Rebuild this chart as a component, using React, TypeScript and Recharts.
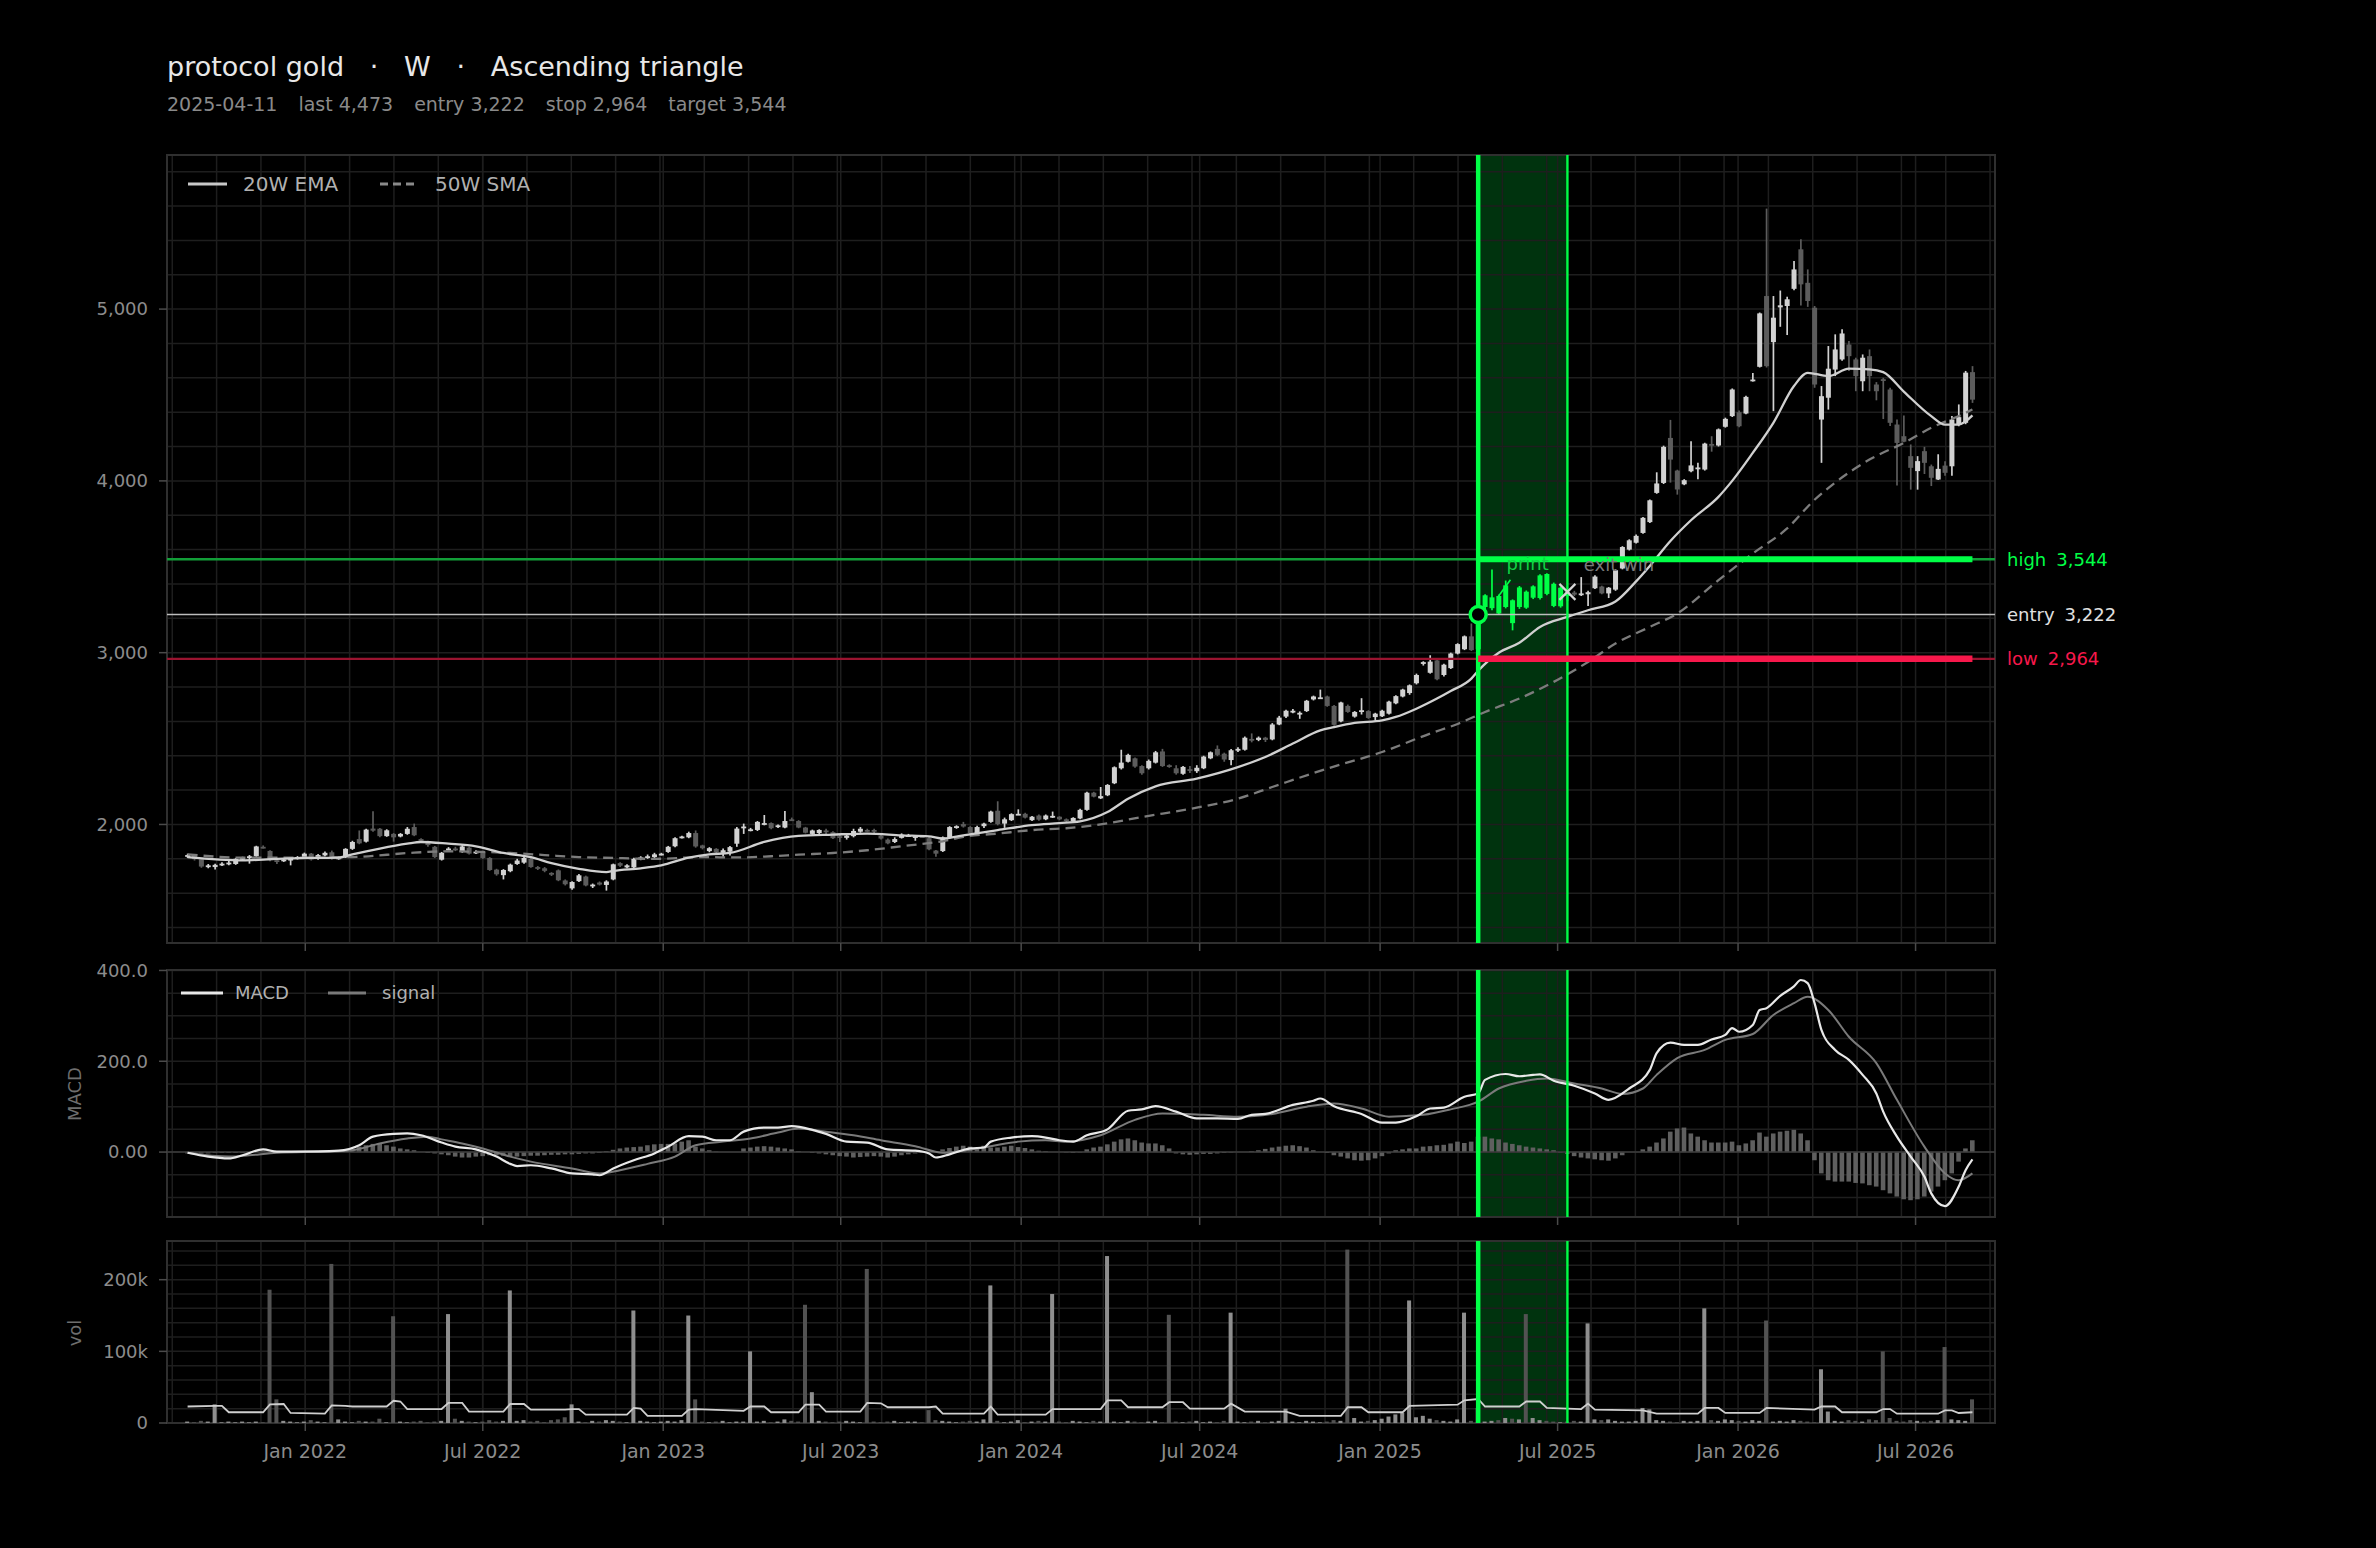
import React from 'react';
import {
  ComposedChart,
  Bar,
  Line,
  XAxis,
  YAxis,
  ReferenceLine,
  ReferenceArea,
  ReferenceDot,
} from 'recharts';

// weekly bars (Friday), first bar 2021-09-03
const opens = [
  1812, 1818, 1798, 1755, 1752, 1765, 1772, 1770, 1800, 1806,
  1815, 1870, 1846, 1792, 1788, 1790, 1802, 1810, 1830, 1800,
  1820, 1838, 1802, 1808, 1858, 1915, 1900, 1976, 1975, 1932,
  1945, 1930, 1945, 1985, 1915, 1898, 1870, 1795, 1852, 1860,
  1840, 1865, 1835, 1840, 1805, 1737, 1705, 1728, 1770, 1778,
  1800, 1752, 1745, 1718, 1733, 1674, 1628, 1670, 1697, 1645,
  1662, 1648, 1680, 1775, 1750, 1750, 1800, 1808, 1810, 1825,
  1840, 1873, 1922, 1925, 1950, 1878, 1845, 1858, 1835, 1842,
  1888, 1982, 1965, 1968, 2000, 2008, 1985, 1982, 2030, 2020,
  1982, 1945, 1950, 1965, 1955, 1932, 1922, 1932, 1958, 1968,
  1968, 1935, 1912, 1898, 1922, 1935, 1928, 1932, 1920, 1848,
  1845, 1925, 1980, 2002, 1985, 1950, 1990, 2015, 2080, 2005,
  2025, 2058, 2062, 2025, 2052, 2030, 2040, 2045, 2030, 2018,
  2035, 2085, 2185, 2152, 2170, 2240, 2327, 2365, 2385, 2340,
  2327, 2360, 2425, 2345, 2327, 2295, 2322, 2310, 2327, 2385,
  2440, 2412, 2375, 2430, 2435, 2498, 2492, 2505, 2495, 2582,
  2628, 2655, 2645, 2660, 2728, 2735, 2745, 2690, 2600, 2690,
  2628, 2658, 2660, 2625, 2630, 2645, 2705, 2745, 2765, 2822,
  2935, 2883, 2955, 2870, 2910, 2995, 3020, 3095, 3020, 3266,
  3259, 3330, 3266, 3305, 3266, 3355, 3320, 3318, 3458, 3401,
  3270, 3350, 3350, 3335, 3340, 3375, 3385, 3345, 3367, 3490,
  3600, 3640, 3697, 3760, 3930, 3988, 4250, 4060, 3980, 4056,
  4070, 4066, 4215, 4206, 4315, 4377, 4400, 4392, 4580, 4664,
  5076, 4808, 5010, 5018, 5118, 5348, 5153, 5008, 4357, 4484,
  4648, 4707, 4794, 4707, 4580, 4726, 4561, 4592, 4532, 4328,
  4260, 4144, 4057, 4173, 4085, 4008, 4089, 4085, 4328, 4338,
  4633,
];
const highs = [
  1830, 1824, 1802, 1770, 1772, 1780, 1790, 1805, 1812, 1822,
  1876, 1878, 1850, 1800, 1802, 1808, 1816, 1836, 1834, 1828,
  1842, 1848, 1815, 1862, 1905, 1965, 1975, 2077, 1980, 1972,
  1950, 1950, 1985, 2005, 1920, 1905, 1875, 1840, 1868, 1870,
  1880, 1870, 1850, 1845, 1810, 1742, 1740, 1772, 1800, 1812,
  1808, 1758, 1752, 1722, 1738, 1680, 1670, 1712, 1702, 1656,
  1668, 1675, 1772, 1780, 1768, 1806, 1815, 1825, 1835, 1835,
  1875, 1925, 1935, 1958, 1965, 1882, 1868, 1862, 1860, 1875,
  1985, 2005, 1980, 2020, 2055, 2012, 2000, 2078, 2040, 2025,
  1986, 1970, 1972, 1975, 1960, 1940, 1940, 1975, 1985, 1975,
  1975, 1942, 1918, 1925, 1948, 1945, 1938, 1936, 1925, 1852,
  1930, 1990, 1995, 2015, 1990, 1992, 2010, 2080, 2135, 2040,
  2065, 2088, 2068, 2050, 2058, 2058, 2075, 2048, 2035, 2042,
  2092, 2190, 2190, 2218, 2235, 2338, 2435, 2412, 2390, 2345,
  2378, 2428, 2440, 2350, 2345, 2340, 2340, 2345, 2400, 2425,
  2460, 2418, 2440, 2450, 2512, 2530, 2512, 2510, 2590, 2632,
  2668, 2672, 2658, 2725, 2750, 2785, 2750, 2695, 2715, 2698,
  2660, 2735, 2665, 2650, 2668, 2720, 2752, 2790, 2815, 2878,
  2950, 2985, 2962, 2935, 3000, 3055, 3100, 3170, 3235, 3340,
  3484, 3338, 3420, 3310, 3388, 3362, 3392, 3456, 3462, 3408,
  3385, 3362, 3360, 3440, 3360, 3450, 3390, 3382, 3485, 3620,
  3660, 3688, 3790, 3892, 4050, 4205, 4355, 4065, 4010, 4230,
  4105, 4222, 4260, 4305, 4368, 4538, 4410, 4495, 4628, 4980,
  5585, 5076, 5108, 5072, 5280, 5406, 5231, 5018, 4552, 4785,
  4853, 4882, 4815, 4717, 4736, 4765, 4575, 4600, 4542, 4357,
  4380, 4212, 4144, 4198, 4095, 4155, 4115, 4377, 4445, 4640,
  4668,
];
const lows = [
  1805, 1790, 1748, 1745, 1738, 1758, 1762, 1765, 1795, 1772,
  1812, 1860, 1786, 1770, 1782, 1762, 1796, 1806, 1790, 1795,
  1815, 1795, 1795, 1805, 1852, 1885, 1895, 1958, 1925, 1928,
  1900, 1925, 1940, 1932, 1900, 1870, 1805, 1790, 1840, 1845,
  1835, 1825, 1828, 1800, 1730, 1702, 1680, 1722, 1765, 1772,
  1748, 1735, 1722, 1700, 1670, 1645, 1620, 1665, 1640, 1630,
  1645, 1615, 1675, 1752, 1745, 1745, 1792, 1800, 1795, 1820,
  1835, 1868, 1918, 1920, 1865, 1855, 1838, 1832, 1812, 1820,
  1870, 1945, 1960, 1962, 1995, 1972, 1980, 1978, 2020, 1978,
  1948, 1935, 1940, 1935, 1915, 1898, 1912, 1925, 1952, 1958,
  1950, 1912, 1885, 1892, 1918, 1930, 1905, 1925, 1850, 1812,
  1840, 1920, 1975, 1982, 1945, 1945, 1980, 2010, 1995, 1980,
  2020, 2055, 2035, 2020, 2022, 2025, 2038, 2025, 2015, 2012,
  2030, 2080, 2158, 2148, 2165, 2235, 2320, 2360, 2330, 2290,
  2320, 2355, 2335, 2330, 2290, 2290, 2300, 2300, 2322, 2380,
  2398, 2365, 2345, 2422, 2430, 2478, 2485, 2480, 2490, 2578,
  2620, 2648, 2615, 2655, 2722, 2732, 2685, 2575, 2595, 2650,
  2622, 2640, 2615, 2605, 2625, 2640, 2700, 2740, 2755, 2815,
  2925, 2878, 2840, 2862, 2905, 2990, 3015, 3010, 3005, 3230,
  3247, 3220, 3258, 3130, 3255, 3255, 3312, 3310, 3335, 3265,
  3262, 3300, 3330, 3330, 3272, 3370, 3340, 3318, 3360, 3485,
  3595, 3635, 3692, 3755, 3925, 3982, 3990, 3920, 3975, 4050,
  4010, 4060, 4170, 4200, 4310, 4372, 4312, 4388, 4578, 4660,
  4660, 4406, 4897, 4849, 5110, 5021, 5013, 4542, 4105, 4415,
  4610, 4700, 4640, 4522, 4522, 4522, 4469, 4360, 4320, 3973,
  4225, 3949, 3949, 4040, 3970, 4005, 4030, 4030, 4318, 4330,
  4454,
];
const closes = [
  1822, 1798, 1755, 1762, 1765, 1772, 1778, 1800, 1806, 1815,
  1872, 1864, 1792, 1788, 1796, 1802, 1810, 1830, 1796, 1822,
  1835, 1802, 1808, 1858, 1898, 1890, 1970, 1964, 1932, 1966,
  1925, 1945, 1975, 1937, 1908, 1880, 1810, 1835, 1860, 1855,
  1872, 1830, 1842, 1805, 1735, 1710, 1735, 1766, 1790, 1805,
  1752, 1742, 1730, 1714, 1675, 1652, 1665, 1704, 1645, 1650,
  1650, 1668, 1768, 1760, 1762, 1800, 1808, 1815, 1826, 1830,
  1870, 1920, 1930, 1950, 1872, 1862, 1862, 1838, 1850, 1868,
  1976, 1988, 1972, 2015, 2008, 1978, 1995, 2020, 2025, 1982,
  1952, 1965, 1968, 1958, 1920, 1925, 1935, 1962, 1975, 1962,
  1960, 1918, 1890, 1915, 1940, 1938, 1932, 1930, 1855, 1830,
  1925, 1985, 1990, 1988, 1950, 1985, 2005, 2075, 2002, 2030,
  2060, 2062, 2040, 2045, 2028, 2052, 2050, 2030, 2022, 2038,
  2085, 2185, 2162, 2165, 2230, 2333, 2360, 2405, 2337, 2298,
  2370, 2420, 2340, 2338, 2298, 2335, 2318, 2330, 2395, 2420,
  2405, 2378, 2432, 2440, 2505, 2490, 2505, 2492, 2582, 2622,
  2662, 2662, 2650, 2720, 2745, 2740, 2690, 2580, 2710, 2655,
  2655, 2665, 2620, 2645, 2662, 2715, 2747, 2785, 2810, 2870,
  2945, 2948, 2845, 2930, 2995, 3050, 3095, 3015, 3222, 3334,
  3322, 3228, 3392, 3172, 3380, 3262, 3386, 3450, 3342, 3272,
  3378, 3330, 3338, 3345, 3352, 3443, 3345, 3378, 3480, 3615,
  3654, 3680, 3785, 3887, 3985, 4198, 4124, 3950, 4004, 4090,
  4078, 4217, 4205, 4300, 4361, 4532, 4318, 4489, 4590, 4975,
  4668, 4950, 5022, 5057, 5231, 5144, 5047, 4561, 4493, 4653,
  4765, 4858, 4726, 4610, 4717, 4610, 4522, 4585, 4338, 4221,
  4228, 4076, 4115, 4105, 4018, 4070, 4047, 4357, 4371, 4630,
  4473,
];

// weekly volume, thousands
const volumes = [
  2, 1, 3, 2, 26, 1, 2, 1, 2, 1,
  2, 1, 186, 33, 3, 2, 1, 2, 4, 2,
  1, 222, 5, 2, 1, 3, 2, 2, 6, 1,
  149, 2, 1, 2, 3, 1, 2, 3, 152, 6,
  3, 2, 1, 2, 4, 2, 3, 185, 3, 4,
  2, 3, 1, 4, 5, 8, 26, 2, 1, 3,
  2, 4, 3, 2, 1, 157, 3, 2, 1, 2,
  3, 2, 4, 150, 33, 2, 1, 2, 3, 1,
  2, 2, 100, 2, 3, 1, 2, 5, 3, 2,
  165, 43, 3, 2, 1, 2, 3, 2, 1, 215,
  2, 1, 2, 3, 1, 2, 2, 1, 18, 4,
  3, 2, 1, 2, 3, 2, 5, 192, 3, 1,
  2, 4, 1, 2, 3, 2, 180, 2, 1, 3,
  2, 1, 3, 2, 233, 2, 1, 3, 2, 1,
  2, 3, 1, 151, 2, 1, 2, 3, 1, 2,
  1, 3, 154, 2, 1, 2, 3, 1, 2, 3,
  20, 2, 1, 3, 2, 1, 2, 4, 3, 242,
  7, 2, 3, 4, 6, 9, 12, 14, 171, 8,
  10, 6, 4, 3, 2, 5, 154, 3, 21, 2,
  3, 4, 7, 6, 5, 152, 7, 4, 3, 2,
  1, 2, 3, 2, 139, 5, 4, 5, 3, 2,
  2, 3, 21, 19, 4, 3, 2, 1, 3, 2,
  3, 160, 4, 3, 5, 4, 3, 2, 4, 3,
  143, 2, 3, 2, 4, 3, 2, 1, 75, 16,
  3, 2, 4, 3, 2, 5, 4, 100, 7, 3,
  2, 4, 3, 2, 3, 4, 106, 5, 4, 3,
  33,
];

const histogram = [
  -3, -3, -3, -3, -2, -2, -2, -2, -2, -1,
  1, 2, 1, 1, 0, 0, 1, 1, 1, 1,
  1, 2, 2, 3, 8, 12, 15, 18, 18, 15,
  12, 8, 6, 4, 0, -2, -3, -5, -7, -10,
  -12, -12, -10, -9, -7, -7, -8, -10, -10, -9,
  -8, -8, -7, -6, -6, -5, -5, -4, -3, -3,
  -2, 2, 5, 8, 10, 11, 12, 15, 17, 18,
  18, 19, 23, 26, 12, 8, 4, 1, 0, 0,
  0, 8, 10, 12, 13, 12, 10, 8, 6, 2,
  0, -2, -3, -5, -7, -9, -10, -12, -11, -10,
  -9, -10, -12, -10, -7, -5, -3, -2, -1, 0,
  6, 9, 12, 14, 12, 9, 14, 10, 10, 12,
  14, 11, 9, 6, 3, 2, 0, 0, -1, -2,
  -1, 6, 10, 12, 17, 23, 28, 30, 26, 21,
  19, 19, 15, 8, -3, -5, -6, -5, -4, -4,
  -3, -2, -1, 0, 0, 2, 4, 7, 10, 12,
  14, 15, 13, 10, 4, 0, -2, -7, -10, -14,
  -18, -19, -18, -14, -9, -3, 4, 6, 8, 8,
  12, 13, 15, 16, 19, 23, 20, 23, 34, 34,
  30, 28, 21, 18, 15, 12, 10, 8, 6, 4,
  -1, -4, -9, -12, -14, -16, -18, -19, -14, -7,
  0, 0, 6, 12, 21, 30, 45, 52, 54, 41,
  34, 26, 21, 21, 21, 23, 15, 19, 26, 43,
  34, 41, 45, 47, 49, 41, 26, -18, -47, -62,
  -65, -65, -65, -68, -69, -73, -76, -84, -91, -98,
  -104, -106, -104, -98, -87, -76, -62, -47, -21, 8,
  26,
];

// indicator lines, read at selected weeks: [week index, value]
const ema20 = [
  [0, 1810], [8, 1791], [13, 1800], [18, 1805], [22, 1807], [24, 1826], [28, 1860],
  [32, 1888], [34, 1898], [38, 1888], [42, 1873], [46, 1834], [50, 1810], [53, 1775],
  [57, 1742], [61, 1723], [62, 1730], [66, 1745], [69, 1762], [73, 1807], [76, 1826],
  [79, 1834], [84, 1898], [89, 1933], [94, 1941], [99, 1947], [104, 1937], [108, 1931],
  [110, 1918], [113, 1937], [118, 1967], [123, 1996], [127, 2008], [130, 2018],
  [134, 2072], [137, 2150], [141, 2222], [147, 2267], [153, 2334], [157, 2393],
  [161, 2471], [165, 2548], [167, 2567], [170, 2591], [174, 2606], [176, 2626],
  [179, 2674], [182, 2733], [184, 2777], [187, 2849], [188, 2895], [191, 3000],
  [194, 3058], [197, 3150], [201, 3208], [204, 3247], [208, 3298], [211, 3415],
  [213, 3505], [216, 3650], [219, 3771], [223, 3907], [225, 4000], [228, 4163],
  [231, 4338], [234, 4552], [236, 4629], [239, 4610], [242, 4653], [245, 4649],
  [247, 4633], [250, 4520], [254, 4377], [256, 4328], [258, 4328], [260, 4381],
];
const sma50 = [
  [0, 1826], [8, 1807], [18, 1807], [24, 1810], [33, 1836], [38, 1844], [43, 1840],
  [47, 1834], [52, 1822], [57, 1810], [62, 1805], [68, 1800], [75, 1810], [80, 1808],
  [85, 1815], [89, 1824], [94, 1834], [99, 1850], [104, 1873], [108, 1892],
  [110, 1902], [113, 1928], [118, 1947], [123, 1967], [128, 1978], [133, 2000],
  [139, 2043], [147, 2098], [153, 2150], [158, 2218], [166, 2325], [174, 2422],
  [181, 2529], [185, 2585], [189, 2655], [194, 2733], [199, 2830], [204, 2946],
  [208, 3053], [213, 3150], [217, 3228], [223, 3422], [228, 3577], [233, 3723],
  [237, 3890], [240, 3990], [245, 4124], [250, 4221], [254, 4309], [259, 4396],
  [260, 4416],
];
const macdLine = [
  [0, -1.5], [3, -10], [6, -14], [8, -7], [11, 6], [13, 1], [19, 1.5], [22, 3],
  [25, 15], [27, 34], [30, 40], [32, 41], [34, 37], [37, 21], [39, 12], [42, 6],
  [45, -10], [47, -26], [48, -31], [50, -29], [53, -36], [56, -47], [59, -49],
  [60, -51], [62, -36], [65, -18], [68, -3], [70, 12], [73, 35], [75, 34], [77, 26],
  [79, 26], [81, 45], [84, 54], [86, 54], [88, 57], [91, 49], [93, 40], [96, 23],
  [99, 21], [102, 6], [106, 3], [108, -3], [109, -12], [111, -5], [114, 8], [116, 10],
  [117, 23], [120, 32], [123, 35], [125, 32], [127, 26], [129, 23], [131, 37],
  [134, 50], [137, 91], [139, 94], [141, 101], [144, 89], [147, 74], [150, 74],
  [153, 73], [155, 82], [157, 84], [161, 104], [164, 113], [165, 118], [167, 101],
  [171, 84], [174, 65], [176, 65], [179, 79], [181, 96], [183, 98], [186, 122],
  [188, 129], [189, 159], [192, 172], [194, 167], [196, 170], [197, 171], [199, 157],
  [202, 146], [205, 129], [207, 115], [210, 140], [213, 181], [214, 218], [216, 241],
  [218, 236], [220, 236], [222, 248], [224, 258], [225, 273], [226, 265], [228, 280],
  [229, 313], [230, 317], [232, 344], [234, 365], [235, 379], [236, 372], [237, 328],
  [238, 269], [240, 225], [242, 203], [244, 170], [246, 129], [247, 89], [249, 34],
  [251, -10], [253, -54], [254, -91], [256, -119], [258, -76], [259, -40], [260, -16],
];
const signalLine = [
  [0, -1.5], [6, -10], [9, -7], [13, -1.5], [21, 1.5], [24, 4], [28, 19], [32, 30],
  [35, 34], [37, 28], [40, 19], [43, 8], [47, -10], [50, -21], [56, -36], [60, -47],
  [63, -40], [67, -26], [71, -10], [74, 15], [78, 23], [82, 30], [86, 43], [89, 52],
  [93, 45], [97, 37], [101, 26], [106, 13], [110, -1.5], [113, 3], [117, 13],
  [121, 23], [125, 26], [128, 23], [133, 37], [138, 71], [142, 85], [148, 82],
  [153, 78], [158, 84], [163, 100], [167, 107], [171, 96], [175, 78], [180, 82],
  [184, 94], [188, 111], [191, 140], [195, 157], [198, 162], [202, 151], [206, 140],
  [209, 128], [212, 140], [214, 170], [217, 207], [221, 225], [224, 247], [228, 260],
  [231, 302], [234, 328], [236, 342], [239, 313], [242, 254], [246, 196], [249, 115],
  [253, 12], [256, -47], [258, -62], [260, -47],
];
// volume average line, thousands
const volumeAvg = [
  [0, 23], [4, 24], [5, 24], [6, 15], [11, 15], [12, 26], [14, 26.5], [15, 14],
  [20, 13], [21, 24.5], [23, 24], [24, 23], [29, 23], [30, 31], [31, 30], [32, 19.5],
  [37, 19.5], [38, 28], [40, 28], [41, 16], [46, 16], [47, 26.5], [49, 26.5],
  [50, 18.6], [55, 18.6], [56, 19.5], [57, 19.5], [58, 11.6], [64, 11.6], [65, 21],
  [66, 20], [67, 10], [72, 10], [73, 18.6], [74, 19.5], [81, 17], [82, 23], [84, 23],
  [85, 15], [89, 15], [90, 25.6], [92, 25.6], [93, 16], [98, 16], [99, 28],
  [101, 27.5], [102, 22], [108, 22], [109, 23], [110, 13], [116, 13], [117, 23],
  [118, 11.6], [125, 11.6], [126, 19.5], [133, 19.5], [134, 31.6], [136, 31.6],
  [137, 22], [142, 22], [143, 29], [145, 29], [146, 20], [151, 20], [152, 27],
  [154, 16], [160, 16], [162, 10], [168, 10], [169, 22], [171, 22], [172, 15],
  [177, 15], [178, 24], [185, 25.6], [186, 31.6], [188, 33.5], [189, 23], [194, 23],
  [195, 30], [197, 30], [198, 21], [203, 19.5], [204, 27], [205, 18.6], [212, 17.7],
  [214, 13], [220, 13], [221, 21], [223, 21], [224, 14], [229, 14], [230, 21],
  [237, 18.6], [238, 23], [240, 23], [241, 15], [246, 15], [247, 19.5], [248, 19.5],
  [249, 13], [255, 13], [256, 17.7], [257, 17.7], [258, 14], [260, 15],
];

const xTickDates = [
  [2022, 0], [2022, 6], [2023, 0], [2023, 6], [2024, 0],
  [2024, 6], [2025, 0], [2025, 6], [2026, 0], [2026, 6],
];
const priceTicks = [2000, 3000, 4000, 5000];
const macdTicks = [0, 200, 400];
const volumeTicks = [0, 100000, 200000];

const ENTRY_INDEX = 188;
const EXIT_INDEX = 201;
const ENTRY_PRICE = 3222;
const STOP_PRICE = 2964;
const TARGET_PRICE = 3544;
const EXIT_MARK_PRICE = 3354;

// ---- layout / style ----
const FONT = '"DejaVu Sans", Verdana, sans-serif';
const DAY = 86400000;
const FIRST_WEEK = Date.UTC(2021, 8, 3);
const weekTime = (i: number) => FIRST_WEEK + i * 7 * DAY;
const X_MIN = Date.UTC(2021, 7, 13);
const X_MAX = Date.UTC(2026, 8, 20);
const MON = ['Jan', 'Feb', 'Mar', 'Apr', 'May', 'Jun', 'Jul', 'Aug', 'Sep', 'Oct', 'Nov', 'Dec'];

const W = 2376;
const PLOT_L = 167;
const PLOT_R = 1995;
const Y_W = 100;
const MARGIN_X = { left: PLOT_L - Y_W, right: W - PLOT_R };

const GREEN = '#00ff46';
const RED = '#f7184b';
const UP = '#d2d2d2';
const DOWN = '#5c5c5c';
const GRID = '#1e1e1e';
const FRAME = '#2f2f2f';
const TICK = '#8c8c8c';

const PRICE_DOMAIN = [1310, 5897];
const MACD_DOMAIN = [-143, 401];
const VOL_DOMAIN = [0, 254000];

const xTicks = xTickDates.map(([y, m]) => Date.UTC(y, m, 1));
const minorGrid: number[] = [];
for (let k = -3; k <= 38; k++) minorGrid.push(Date.UTC(2022, 0, 1) + k * 45.21 * DAY);
const verticalGrid = [...minorGrid, ...xTicks].filter((t) => t > X_MIN && t < X_MAX);

const priceGrid: number[] = [];
for (let v = 1400; v <= 5800; v += 200) priceGrid.push(v);
const macdGrid: number[] = [];
for (let v = -100; v <= 400; v += 50) macdGrid.push(v);
const volGrid: number[] = [];
for (let v = 20000; v <= 240000; v += 20000) volGrid.push(v);

const rows: any[] = closes.map((c, i) => ({
  t: weekTime(i),
  i,
  o: opens[i],
  h: highs[i],
  l: lows[i],
  c,
  range: [lows[i], highs[i]],
  vol: volumes[i] * 1000,
  hist: histogram[i],
}));
const attach = (pts: number[][], key: string, scale = 1) =>
  pts.forEach(([i, v]) => {
    rows[i][key] = v * scale;
  });
attach(ema20, 'ema');
attach(sma50, 'sma');
attach(macdLine, 'macd');
attach(signalLine, 'signal');
attach(volumeAvg, 'volAvg', 1000);

const fmtDate = (t: number) => {
  const d = new Date(t);
  return `${MON[d.getUTCMonth()]} ${d.getUTCFullYear()}`;
};

const Candle = (props: any) => {
  const { x, y, width, height, payload } = props;
  if (x == null || y == null || !payload) return null;
  const top = Math.min(y, y + height);
  const span = Math.abs(height);
  const { o, h, l, c, i } = payload;
  const py = (v: number) => top + ((h - v) / (h - l || 1)) * span;
  const cx = x + width / 2;
  const inTrade = i >= ENTRY_INDEX && i <= EXIT_INDEX;
  const color = inTrade ? GREEN : c >= o ? UP : DOWN;
  const bTop = py(Math.max(o, c));
  const bBot = py(Math.min(o, c));
  return (
    <g>
      <line x1={cx} x2={cx} y1={top} y2={top + span} stroke={color} strokeWidth={1.7} />
      <rect x={cx - 2.5} y={bTop} width={5} height={Math.max(1.8, bBot - bTop)} fill={color} />
    </g>
  );
};

const VolumeBar = (props: any) => {
  const { x, y, width, height, payload } = props;
  if (x == null || y == null || !payload) return null;
  const top = Math.min(y, y + height);
  const color = payload.c >= payload.o ? '#8e8e8e' : '#525252';
  return <rect x={x + width / 2 - 2} y={top} width={4} height={Math.abs(height)} fill={color} />;
};

const sideLabel = (name: string, value: string, color: string) => (props: any) => {
  const vb = props.viewBox || {};
  return (
    <text x={vb.x + vb.width + 12} y={vb.y} dy="0.36em" fill={color} fontSize={18} fontFamily={FONT}>
      <tspan>{name}</tspan>
      <tspan dx={10}>{value}</tspan>
    </text>
  );
};

const xAxis = (labels: boolean, height: number, visible = true) => (
  <XAxis
    dataKey="t"
    type="number"
    domain={[X_MIN, X_MAX]}
    allowDataOverflow
    ticks={xTicks}
    interval={0}
    height={height}
    axisLine={false}
    tickLine={visible ? { stroke: '#4a4a4a', strokeWidth: 1.5 } : false}
    tickSize={8}
    tickMargin={14}
    tickFormatter={labels ? fmtDate : () => ''}
    tick={visible ? { fill: TICK, fontSize: 19, fontFamily: FONT } : false}
  />
);

const yAxis = (
  domain: number[],
  ticks: number[],
  fmt: (v: number) => string,
  visible = true,
) => (
  <YAxis
    type="number"
    domain={domain}
    allowDataOverflow
    ticks={ticks}
    interval={0}
    width={Y_W}
    axisLine={false}
    tickLine={visible ? { stroke: '#4a4a4a', strokeWidth: 1.5 } : false}
    tickSize={8}
    tickMargin={11}
    tickFormatter={fmt}
    tick={visible ? { fill: TICK, fontSize: 18, fontFamily: FONT } : false}
  />
);

// background layer of a panel: grid and trade-window shading, drawn under the series
function PanelBack(props: { height: number; top: number; xHeight: number; domain: number[]; grid: number[] }) {
  const { height, top, xHeight, domain, grid } = props;
  return (
    <ComposedChart width={W} height={height} data={rows} margin={{ top, bottom: 0, ...MARGIN_X }}>
      {xAxis(false, xHeight, false)}
      {yAxis(domain, [], () => '', false)}
      {verticalGrid.map((t) => (
        <ReferenceLine key={`gx${t}`} x={t} stroke={GRID} strokeWidth={1.5} />
      ))}
      {grid.map((v) => (
        <ReferenceLine key={`gy${v}`} y={v} stroke={GRID} strokeWidth={1.5} />
      ))}
      <ReferenceArea
        x1={weekTime(ENTRY_INDEX)}
        x2={weekTime(EXIT_INDEX)}
        y1={domain[0]}
        y2={domain[1]}
        fill={GREEN}
        fillOpacity={0.2}
        stroke="none"
      />
    </ComposedChart>
  );
}

const windowLines = () => [
  <ReferenceLine key="winL" x={weekTime(ENTRY_INDEX)} stroke={GREEN} strokeWidth={4.5} />,
  <ReferenceLine key="winR" x={weekTime(EXIT_INDEX)} stroke={GREEN} strokeWidth={2.4} />,
];

const frame = (domain: number[]) => (
  <ReferenceArea
    x1={X_MIN}
    x2={X_MAX}
    y1={domain[0]}
    y2={domain[1]}
    fill="none"
    stroke={FRAME}
    strokeWidth={2}
  />
);

const TextMark = (text: string, color: string) => (props: any) => (
  <text x={props.cx} y={props.cy} textAnchor="middle" fill={color} fontSize={18} fontFamily={FONT}>
    {text}
  </text>
);

const ExitCross = (props: any) => {
  const { cx, cy } = props;
  const s = 8;
  return (
    <g stroke="#d6d6d6" strokeWidth={2.2}>
      <line x1={cx - s} y1={cy - s} x2={cx + s} y2={cy + s} />
      <line x1={cx - s} y1={cy + s} x2={cx + s} y2={cy - s} />
    </g>
  );
};

function PriceChart() {
  return (
    <ComposedChart width={W} height={963} data={rows} margin={{ top: 155, bottom: 0, ...MARGIN_X }}>
      {xAxis(false, 20)}
      {yAxis(PRICE_DOMAIN, priceTicks, (v) => v.toLocaleString('en-US'))}
      <ReferenceDot x={weekTime(195.2)} y={3484} r={0} shape={TextMark('print', '#12cf45')} />
      <ReferenceDot x={weekTime(208.5)} y={3476} r={0} shape={TextMark('exit win', '#7a7a7a')} />
      <ReferenceLine y={TARGET_PRICE} stroke="#129e38" strokeWidth={2.4} label={sideLabel('high', '3,544', GREEN)} />
      <ReferenceLine y={ENTRY_PRICE} stroke="#bdbdbd" strokeWidth={1.6} label={sideLabel('entry', '3,222', '#e0e0e0')} />
      <ReferenceLine y={STOP_PRICE} stroke="#9a1430" strokeWidth={2.4} label={sideLabel('low', '2,964', RED)} />
      <Bar dataKey="range" barSize={5} shape={<Candle />} isAnimationActive={false} />
      <Line
        dataKey="sma"
        type="monotone"
        stroke="#7c7c7c"
        strokeWidth={2.3}
        strokeDasharray="10 6"
        dot={false}
        connectNulls
        isAnimationActive={false}
      />
      <Line
        dataKey="ema"
        type="monotone"
        stroke="#d0d0d0"
        strokeWidth={2.3}
        dot={false}
        connectNulls
        isAnimationActive={false}
      />
      {windowLines()}
      <ReferenceLine
        segment={[
          { x: weekTime(ENTRY_INDEX), y: TARGET_PRICE },
          { x: weekTime(closes.length - 1), y: TARGET_PRICE },
        ]}
        stroke={GREEN}
        strokeWidth={6}
      />
      <ReferenceLine
        segment={[
          { x: weekTime(ENTRY_INDEX), y: STOP_PRICE },
          { x: weekTime(closes.length - 1), y: STOP_PRICE },
        ]}
        stroke={RED}
        strokeWidth={6.5}
      />
      <ReferenceLine
        segment={[
          { x: weekTime(190.8), y: 3320 },
          { x: weekTime(192.7), y: 3425 },
        ]}
        stroke={GREEN}
        strokeWidth={1.6}
      />
      <ReferenceDot
        x={weekTime(ENTRY_INDEX)}
        y={ENTRY_PRICE}
        r={8}
        fill="#000"
        stroke={GREEN}
        strokeWidth={3.5}
      />
      <ReferenceDot x={weekTime(EXIT_INDEX)} y={EXIT_MARK_PRICE} r={8} shape={<ExitCross />} />
      {frame(PRICE_DOMAIN)}
    </ComposedChart>
  );
}

function MacdChart() {
  return (
    <ComposedChart width={W} height={277} data={rows} margin={{ top: 10, bottom: 0, ...MARGIN_X }}>
      {xAxis(false, 20)}
      {yAxis(MACD_DOMAIN, macdTicks, (v) => (v === 0 ? '0.00' : v.toFixed(1)))}
      <ReferenceLine y={0} stroke="#3c3c3c" strokeWidth={1.6} />
      <Bar dataKey="hist" barSize={4.6} fill="#5f5f5f" isAnimationActive={false} />
      <Line
        dataKey="signal"
        type="monotone"
        stroke="#7a7a7a"
        strokeWidth={2}
        dot={false}
        connectNulls
        isAnimationActive={false}
      />
      <Line
        dataKey="macd"
        type="monotone"
        stroke="#e8e8e8"
        strokeWidth={2.2}
        dot={false}
        connectNulls
        isAnimationActive={false}
      />
      {windowLines()}
      {frame(MACD_DOMAIN)}
    </ComposedChart>
  );
}

function VolumeChart() {
  return (
    <ComposedChart width={W} height={242} data={rows} margin={{ top: 10, bottom: 0, ...MARGIN_X }}>
      {xAxis(true, 50)}
      {yAxis(VOL_DOMAIN, volumeTicks, (v) => (v === 0 ? '0' : `${v / 1000}k`))}
      <Bar dataKey="vol" barSize={4} shape={<VolumeBar />} isAnimationActive={false} />
      <Line
        dataKey="volAvg"
        type="linear"
        stroke="#cfcfcf"
        strokeWidth={1.8}
        dot={false}
        connectNulls
        isAnimationActive={false}
      />
      {windowLines()}
      {frame(VOL_DOMAIN)}
    </ComposedChart>
  );
}

const layer = (top: number, child: React.ReactNode) => (
  <div style={{ position: 'absolute', left: 0, top }}>{child}</div>
);

export default function App() {
  return (
    <div
      style={{
        position: 'absolute',
        left: 0,
        top: 0,
        width: W,
        height: 1548,
        background: '#000',
        fontFamily: FONT,
        overflow: 'hidden',
      }}
    >
      <div
        style={{
          position: 'absolute',
          left: PLOT_L,
          top: 53,
          fontSize: 27,
          lineHeight: '27px',
          color: '#e8e8e8',
          whiteSpace: 'pre',
        }}
      >
        {'protocol gold   ·   W   ·   Ascending triangle'}
      </div>
      <div
        style={{
          position: 'absolute',
          left: PLOT_L,
          top: 95,
          fontSize: 19,
          lineHeight: '19px',
          color: '#8a8a8a',
          whiteSpace: 'pre',
          display: 'flex',
          gap: 21,
        }}
      >
        <span>2025-04-11</span>
        <span>last 4,473</span>
        <span>entry 3,222</span>
        <span>stop 2,964</span>
        <span>target 3,544</span>
      </div>
      {layer(0, <PanelBack height={963} top={155} xHeight={20} domain={PRICE_DOMAIN} grid={priceGrid} />)}
      {layer(960, <PanelBack height={277} top={10} xHeight={20} domain={MACD_DOMAIN} grid={macdGrid} />)}
      {layer(1231, <PanelBack height={242} top={10} xHeight={50} domain={VOL_DOMAIN} grid={volGrid} />)}
      {layer(0, <PriceChart />)}
      {layer(960, <MacdChart />)}
      {layer(1231, <VolumeChart />)}
      <svg
        width={W}
        height={1548}
        style={{ position: 'absolute', left: 0, top: 0, pointerEvents: 'none' }}
        fontFamily={FONT}
      >
        <line x1={188} x2={227} y1={184} y2={184} stroke="#c8c8c8" strokeWidth={3} />
        <text x={243} y={184} dy="0.36em" fontSize={20} fill="#b0b0b0">
          20W EMA
        </text>
        <line x1={380} x2={414} y1={184} y2={184} stroke="#8a8a8a" strokeWidth={3} strokeDasharray="8 5" />
        <text x={435} y={184} dy="0.36em" fontSize={20} fill="#b0b0b0">
          50W SMA
        </text>
        <line x1={181} x2={223} y1={993} y2={993} stroke="#e8e8e8" strokeWidth={3} />
        <text x={235} y={993} dy="0.36em" fontSize={18} fill="#b0b0b0">
          MACD
        </text>
        <line x1={328} x2={366} y1={993} y2={993} stroke="#7a7a7a" strokeWidth={3} />
        <text x={382} y={993} dy="0.36em" fontSize={18} fill="#b0b0b0">
          signal
        </text>
        <text
          transform="translate(75,1094) rotate(-90)"
          textAnchor="middle"
          dy="0.36em"
          fontSize={18}
          fill="#6e6e6e"
        >
          MACD
        </text>
        <text
          transform="translate(75,1333) rotate(-90)"
          textAnchor="middle"
          dy="0.36em"
          fontSize={18}
          fill="#6e6e6e"
        >
          vol
        </text>
      </svg>
    </div>
  );
}
